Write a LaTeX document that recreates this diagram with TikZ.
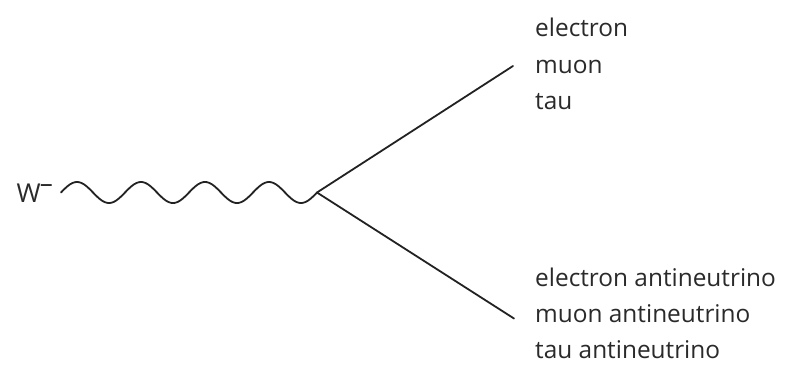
\documentclass[tikz,border=0pt]{standalone}
\usepackage{fontspec}
\setmainfont{Open Sans}
\definecolor{ink}{HTML}{222222}
\definecolor{txt}{HTML}{2A2A2A}
\begin{document}
\begin{tikzpicture}[x=1pt,y=-1pt,
  lbl/.style={anchor=base west,inner sep=0pt,text=txt,font=\fontsize{24.4}{36}\selectfont},
  wline/.style={draw=ink,line width=1.8pt,line cap=round,line join=round}]
\useasboundingbox (0,0) rectangle (785,370);
% W boson label
\node[lbl,font=\fontsize{26}{36}\selectfont] (w) at (16.5,202.5) {W\kern-1pt\raisebox{10pt}{–}};
\coordinate (ws) at (61,192.5);
\coordinate (v) at (317,192.5);
\coordinate (ue) at (513,66);
\coordinate (le) at (514,318.5);
% wavy boson line
\draw[wline] plot[domain=61:317,samples=240,smooth] (\x,{192.5-10.5*sin(5.625*(\x-61))});
% fermion lines
\draw[wline] (v) -- (ue);
\draw[wline] (v) -- (le);
% upper labels
\node[lbl] (l1) at (535,36.5) {electron};
\node[lbl] (l2) at (535,73) {muon};
\node[lbl] (l3) at (535,109.5) {tau};
% lower labels
\node[lbl] (n1) at (535,286) {electron antineutrino};
\node[lbl] (n2) at (535,322) {muon antineutrino};
\node[lbl] (n3) at (535,358) {tau antineutrino};
\end{tikzpicture}
\end{document}
